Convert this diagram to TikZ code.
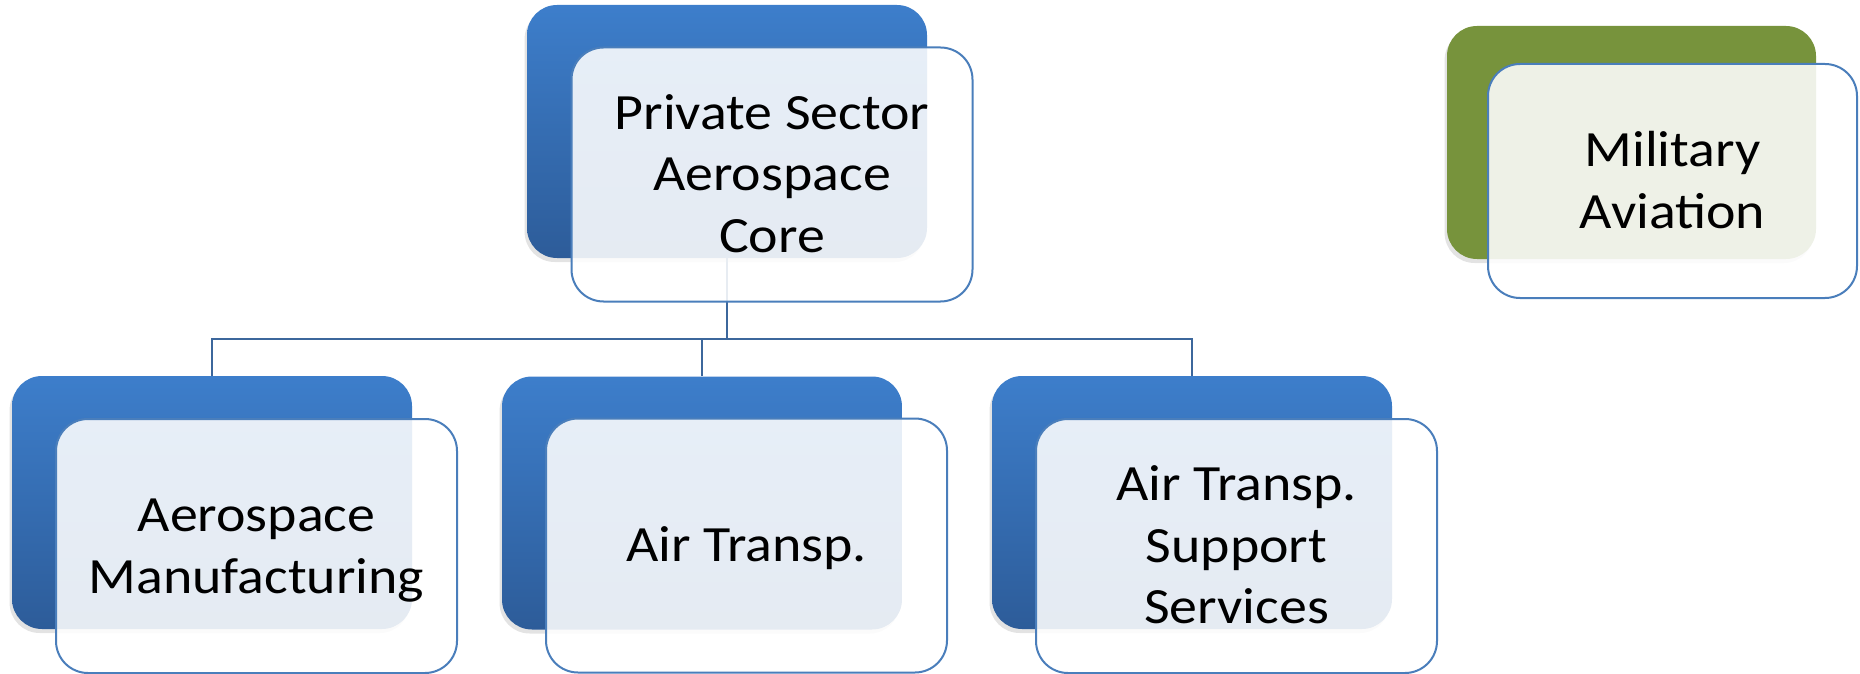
\documentclass[tikz,border=0pt]{standalone}
\usepackage{fontspec}
\setmainfont{Carlito}[FakeStretch=1.1]
\usetikzlibrary{shadows}
\pgfdeclarelayer{bg}
\pgfsetlayers{bg,main}
\definecolor{backblue}{HTML}{3D7ECB}
\definecolor{backbluemid}{HTML}{3A77C1}
\definecolor{backbluedark}{HTML}{2D5C99}
\definecolor{backgreen}{HTML}{77933C}
\definecolor{frameblue}{HTML}{4A7EBB}
\definecolor{linkblue}{HTML}{3C679C}
\newcommand{\capline}{\rule{0pt}{16.3pt}}
\begin{document}
\begin{tikzpicture}[x=0.5pt,y=-0.5pt,
  backbox/.style={rectangle, rounded corners=15pt, minimum width=200pt, minimum height=126.5pt, inner sep=0pt,
    drop shadow={shadow xshift=-1.2pt, shadow yshift=-2pt, opacity=0.22}},
  blueback/.style={backbox, top color=backblue, middle color=backbluemid, bottom color=backbluedark},
  greenback/.style={backbox, fill=backgreen},
  frontbox/.style={rectangle, rounded corners=16pt, draw=frameblue, line width=1pt, fill=white, fill opacity=0.88,
    text opacity=1, minimum width=200.5pt, minimum height=127pt, inner sep=0pt, align=center,
    font=\fontsize{25.4}{30.75}\selectfont},
  link/.style={draw=linkblue, line width=1pt}]
\useasboundingbox (0,0) rectangle (1860,674);
% top
\node[blueback] (coreback) at (727,131.5) {};
\node[frontbox] (core) at (772,174.5) {\capline\smash{Private Sector}\\\smash{Aerospace}\\\smash{Core}};
% military
\node[greenback, minimum width=184.5pt, minimum height=116.5pt] (milback) at (1631.5,142.5) {};
\node[frontbox, minimum width=184.5pt, minimum height=117pt] (mil) at (1672.5,181) {\capline\smash{Military}\\\smash{Aviation}};
% bottom row
\node[blueback] (mfgback) at (212,502.5) {};
\node[frontbox] (mfg) at (256.5,546) {\capline\smash{Aerospace}\\\smash{Manufacturing}};
\node[blueback] (airback) at (702,503) {};
\node[frontbox] (air) at (746.5,545.5) {\capline\smash{Air Transp.}};
\node[blueback] (supback) at (1192,502.5) {};
\node[frontbox] (sup) at (1236.5,546) {\capline\smash{Air Transp.}\\\smash{Support}\\\smash{Services}};
% connectors
\coordinate (junc) at (727,339);
\begin{pgfonlayer}{bg}
\draw[link] (coreback.south) -- (junc);
\draw[link] (mfgback.north) -- (mfgback.north |- junc) -- (supback.north |- junc) -- (supback.north);
\draw[link] (airback.north) -- (airback.north |- junc);
\end{pgfonlayer}
\end{tikzpicture}
\end{document}
